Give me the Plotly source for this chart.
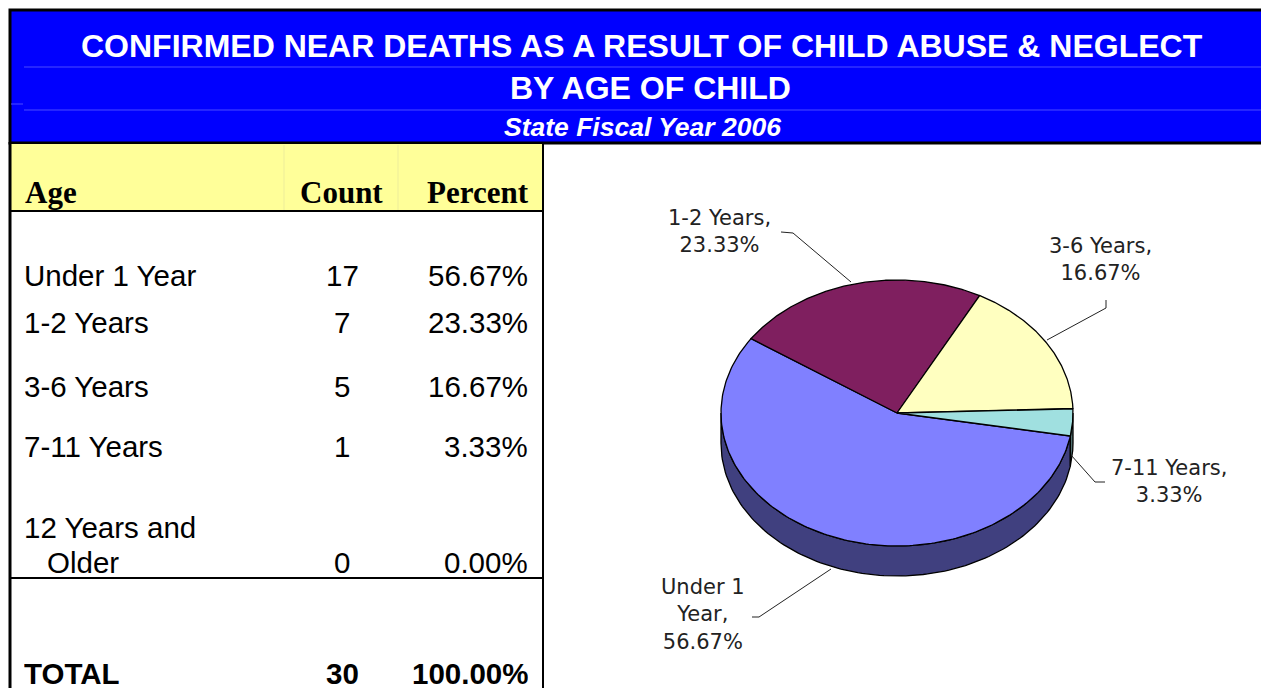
import numpy as np
import plotly.graph_objects as go

# ---------------- data ----------------
title_lines = ["CONFIRMED NEAR DEATHS AS A RESULT OF CHILD ABUSE & NEGLECT", "BY AGE OF CHILD"]
subtitle = "State Fiscal Year 2006"
col_headers = ["Age", "Count", "Percent"]
age_groups = ["Under 1 Year", "1-2 Years", "3-6 Years", "7-11 Years", "12 Years and Older"]
counts = [17, 7, 5, 1, 0]
percents = [56.67, 23.33, 16.67, 3.33, 0.00]
total_label = "TOTAL"
total_count = 30
total_percent = 100.00
pie_names = ["Under 1<br>Year,", "1-2 Years,", "3-6 Years,", "7-11 Years,", "12 Years and Older,"]

# ---------------- styles / layout ----------------
W, H = 1261, 688
top_colors = ["#8080FF", "#7F1F5F", "#FFFFC0", "#A0E0E0", "#C0C0C0"]
side_colors = ["#40407F", "#401030", "#80805F", "#507070", "#606060"]

SANS = "Liberation Sans, Arial, sans-serif"
SERIF = "Liberation Serif, Times New Roman, serif"
LABEL_FONT = "DejaVu Sans, Verdana, sans-serif"

fig = go.Figure()

# ---------------- pie (3D-look, built from counts) ----------------
cx, cy, rx, ry, depth = 897, 413, 176, 133, 30
start = -10.0
tot = float(sum(counts))


def pts(ts, dy=0.0):
    r = np.radians(ts)
    return cx + rx * np.cos(r), cy - ry * np.sin(r) + dy


angles = []
cum = 0.0
for v in counts:
    a0 = start - cum / tot * 360.0
    a1 = start - (cum + v) / tot * 360.0
    angles.append((a0, a1))
    cum += v

# side walls
for i, (a0, a1) in enumerate(angles):
    if counts[i] <= 0:
        continue
    for k in (-2, -1, 0, 1):
        lo = max(a1, -180 + 360 * k)
        hi = min(a0, 360 * k)
        if lo < hi:
            ts = np.linspace(hi, lo, 120)
            xt, yt = pts(ts)
            xb, yb = pts(ts[::-1], depth)
            xs = np.concatenate([xt, xb, xt[:1]])
            ys = np.concatenate([yt, yb, yt[:1]])
            fig.add_trace(go.Scatter(x=xs, y=ys, mode="lines", fill="toself",
                                     fillcolor=side_colors[i],
                                     line=dict(color="black", width=1.3),
                                     hoverinfo="skip", showlegend=False))

# top faces
for i, (a0, a1) in enumerate(angles):
    if counts[i] <= 0:
        continue
    ts = np.linspace(a0, a1, 200)
    xa, ya = pts(ts)
    xs = np.concatenate([[cx], xa, [cx]])
    ys = np.concatenate([[cy], ya, [cy]])
    fig.add_trace(go.Scatter(x=xs, y=ys, mode="lines", fill="toself",
                             fillcolor=top_colors[i],
                             line=dict(color="black", width=1.3),
                             name=age_groups[i],
                             hovertemplate=age_groups[i] + ": %{text}<extra></extra>",
                             text=[f"{counts[i]}"] * len(xs),
                             showlegend=False))

# pie labels + leader lines
label_pos = {0: (703, 614), 1: (719, 231), 2: (1100, 259), 3: (1169, 481)}
leader_paths = {
    0: "M831,569 L759,617 L752,617",
    1: "M781,232 L793,233 L851,282",
    2: "M1106,300 L1106,308 L1047,340",
    3: "M1071,455 L1095,482 L1105,482",
}
annotations = []
shapes = []
for i, (x, y) in label_pos.items():
    annotations.append(dict(x=x, y=y, xref="x", yref="y", showarrow=False,
                            text=f"{pie_names[i]}<br>{percents[i]:.2f}%",
                            font=dict(family=LABEL_FONT, size=21, color="#222222"),
                            xanchor="center", yanchor="middle", align="center"))
    shapes.append(dict(type="path", path=leader_paths[i], xref="x", yref="y",
                       line=dict(color="#222222", width=1)))

# ---------------- header band ----------------
shapes.insert(0, dict(type="rect", x0=10, y0=10, x1=1270, y1=143, xref="x", yref="y",
                      fillcolor="#0000FF", line=dict(color="black", width=3), layer="below"))
for yy in (67, 110):
    shapes.append(dict(type="line", x0=24, x1=1261, y0=yy, y1=yy, xref="x", yref="y",
                       line=dict(color="#4A4AFF", width=1)))
shapes.append(dict(type="line", x0=11, x1=23, y0=104, y1=104, xref="x", yref="y",
                   line=dict(color="#4A4AFF", width=1)))

annotations.append(dict(x=642, y=46, xref="x", yref="y", showarrow=False, text=f"<b>{title_lines[0]}</b>",
                        font=dict(family=SANS, size=32, color="white"), xanchor="center", yanchor="middle"))
annotations.append(dict(x=650, y=88, xref="x", yref="y", showarrow=False, text=f"<b>{title_lines[1]}</b>",
                        font=dict(family=SANS, size=32, color="white"), xanchor="center", yanchor="middle"))
annotations.append(dict(x=642, y=127, xref="x", yref="y", showarrow=False, text=f"<b><i>{subtitle}</i></b>",
                        font=dict(family=SANS, size=26.5, color="white"), xanchor="center", yanchor="middle"))

# ---------------- table ----------------
shapes.append(dict(type="rect", x0=11, x1=543, y0=144, y1=211, xref="x", yref="y",
                   fillcolor="#FFFF99", line=dict(width=0), layer="below"))
for xx in (284, 398):
    shapes.append(dict(type="line", x0=xx, x1=xx, y0=145, y1=211, xref="x", yref="y",
                       line=dict(color="#EDED9A", width=1)))
shapes.append(dict(type="line", x0=10, x1=10, y0=142, y1=700, xref="x", yref="y",
                   line=dict(color="black", width=3)))
shapes.append(dict(type="line", x0=543, x1=543, y0=142, y1=700, xref="x", yref="y",
                   line=dict(color="black", width=2)))
shapes.append(dict(type="line", x0=10, x1=544, y0=211, y1=211, xref="x", yref="y",
                   line=dict(color="black", width=2)))
shapes.append(dict(type="line", x0=10, x1=544, y0=578, y1=578, xref="x", yref="y",
                   line=dict(color="black", width=2)))

hdr_y = 192
hdr_font = dict(family=SERIF, size=31, color="black")
annotations.append(dict(x=23, y=hdr_y, text=f"<b>{col_headers[0]}</b>", xanchor="left"))
annotations.append(dict(x=385, y=hdr_y, text=f"<b>{col_headers[1]}</b>", xanchor="right"))
annotations.append(dict(x=531, y=hdr_y, text=f"<b>{col_headers[2]}</b>", xanchor="right"))
for a in annotations[-3:]:
    a.update(xref="x", yref="y", showarrow=False, yanchor="middle", font=hdr_font)

row_y = [275, 322, 386, 446, 562]
body_font = dict(family=SANS, size=29.5, color="black")
for i, name in enumerate(age_groups):
    y = row_y[i]
    if name.startswith("12 Years"):
        annotations.append(dict(x=22, y=527, text="12 Years and", xanchor="left"))
        annotations.append(dict(x=45, y=y, text="Older", xanchor="left"))
    else:
        annotations.append(dict(x=22, y=y, text=name, xanchor="left"))
    annotations.append(dict(x=342, y=y, text=str(counts[i]), xanchor="center"))
    annotations.append(dict(x=530, y=y, text=f"{percents[i]:.2f}%", xanchor="right"))
for a in annotations:
    if "font" not in a:
        a.update(xref="x", yref="y", showarrow=False, yanchor="middle", font=body_font)

tot_font = dict(family=SANS, size=29.5, color="black")
for x, t, xa in ((22, total_label, "left"), (342, str(total_count), "center"),
                 (530, f"{total_percent:.2f}%", "right")):
    annotations.append(dict(x=x, y=673, text=f"<b>{t}</b>", xanchor=xa, xref="x", yref="y",
                            showarrow=False, yanchor="middle", font=tot_font,
                            height=28, valign="middle"))

fig.update_layout(
    width=W, height=H,
    margin=dict(l=0, r=0, t=0, b=0),
    paper_bgcolor="white", plot_bgcolor="white",
    xaxis=dict(range=[0, W], visible=False, fixedrange=True),
    yaxis=dict(range=[H, 0], visible=False, fixedrange=True),
    shapes=shapes,
    annotations=annotations,
    showlegend=False,
)

fig.write_html("out.html", config={"displayModeBar": False},
               post_script="document.body.style.margin='0px';document.body.style.overflow='hidden';")
